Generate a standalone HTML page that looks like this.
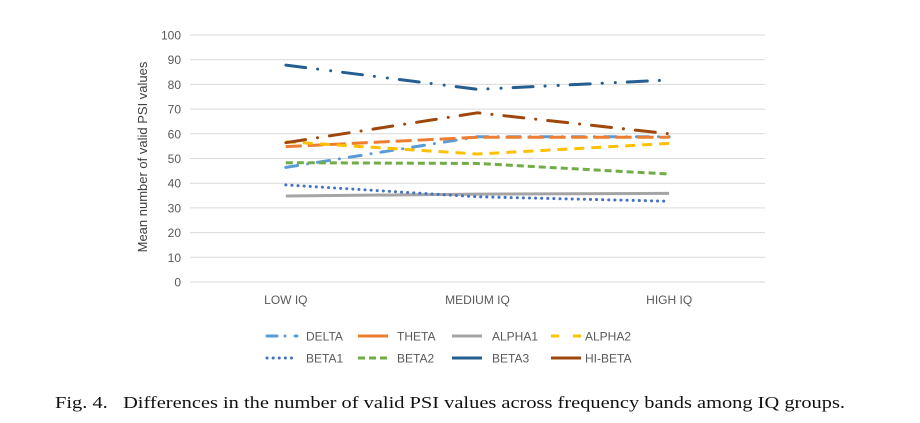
<!DOCTYPE html>
<html><head><meta charset="utf-8"><style>
body{margin:0;background:#fff;width:920px;height:423px;overflow:hidden}
svg{display:block}
text{font-family:"Liberation Sans",sans-serif}
</style></head><body>
<svg width="920" height="423">
<g id="grid"></g>
<g id="yt"></g>
<g id="xt"></g>
<text transform="translate(147,157) rotate(-90)" text-anchor="middle" font-size="13" fill="#404040">Mean number of valid PSI values</text>
<g id="series"></g>
<g id="legend"></g>
<text x="55" y="408" font-size="17" fill="#111" textLength="790" lengthAdjust="spacingAndGlyphs" style="font-family:'Liberation Serif',serif">Fig. 4.&#160;&#160;&#160;Differences in the number of valid PSI values across frequency bands among IQ groups.</text>
</svg>
<script>
const categories=["LOW IQ","MEDIUM IQ","HIGH IQ"];
const yTicks=[0,10,20,30,40,50,60,70,80,90,100];
const seriesNames=["DELTA","THETA","ALPHA1","ALPHA2","BETA1","BETA2","BETA3","HI-BETA"];
const delta=[46.4,58.8,58.8];
const theta=[54.8,58.6,58.6];
const alpha1=[34.8,35.6,35.9];
const alpha2=[56.8,51.8,56.1];
const beta1=[39.3,34.5,32.7];
const beta2=[48.3,48.0,43.7];
const beta3=[87.8,78.0,81.8];
const hiBeta=[56.4,68.5,60.0];
const NS="http://www.w3.org/2000/svg";
const x0=190,x1=765,yBase=282,yTop=35;
const y=v=>yBase-(v/100)*(yBase-yTop);
const x=i=>x0+(x1-x0)/categories.length*(i+0.5);
function mk(t,a,p){const e=document.createElementNS(NS,t);for(const k in a)e.setAttribute(k,a[k]);p.appendChild(e);return e;}
const grid=document.getElementById('grid'),yt=document.getElementById('yt'),xt=document.getElementById('xt');
yTicks.forEach(v=>{
 const l=mk('line',{x1:x0,x2:x1,y1:y(v),y2:y(v),stroke:'#d9d9d9','stroke-width':1},grid);
 
 
 const t=mk('text',{x:181,y:y(v)+4.5,'text-anchor':'end','font-size':12,fill:'#595959'},yt);
 t.textContent=v;
 
 
});
categories.forEach((c,i)=>{
 const t=mk('text',{x:x(i),y:304,'text-anchor':'middle','font-size':12,fill:'#595959'},xt);
 t.textContent=c;
 
 
});
const styles=[
 {d:delta,c:'#5b9bd5',da:'12 10 0.1 10',cap:'round',lda:'10 8 0.1 10'},
 {d:theta,c:'#ed7d31',da:'16 6',cap:'butt',lda:'none'},
 {d:alpha1,c:'#a5a5a5',da:'none',cap:'butt',lda:'none'},
 {d:alpha2,c:'#ffc000',da:'10 7',cap:'butt',lda:'8 14'},
 {d:beta1,c:'#4472c4',da:'0.1 6',cap:'round',lda:'0.1 6'},
 {d:beta2,c:'#70ad47',da:'7 4',cap:'butt',lda:'7 4'},
 {d:beta3,c:'#255e91',da:'20 12 0.1 13 0.1 12',cap:'round',lda:'none'},
 {d:hiBeta,c:'#9e480e',da:'20 12 0.1 12',cap:'round',lda:'none'}
];
const sg=document.getElementById('series');
styles.forEach((s,k)=>{
 const pts=s.d.map((v,i)=>x(i)+','+y(v)).join(' ');
 const p=mk('polyline',{points:pts,fill:'none',stroke:s.c,'stroke-width':3,'stroke-dasharray':s.da,'stroke-linecap':s.cap,'stroke-linejoin':'round'},sg);
 
 
});
const lg=document.getElementById('legend');
const lx=[267,358,452,551],tx=[306,397,492,585],ly=[336,358];
styles.forEach((s,k)=>{
 const r=Math.floor(k/4),c=k%4;
 const g=mk('g',{},lg);
 
 
 mk('line',{x1:lx[c],x2:lx[c]+30,y1:ly[r],y2:ly[r],stroke:s.c,'stroke-width':3,'stroke-dasharray':s.lda,'stroke-linecap':s.cap==='round'&&s.lda!=='none'?'round':'butt'},g);
 const t=mk('text',{x:tx[c],y:ly[r]+4.5,'font-size':12,fill:'#595959'},g);
 t.textContent=seriesNames[k];
});
</script>
</body></html>
